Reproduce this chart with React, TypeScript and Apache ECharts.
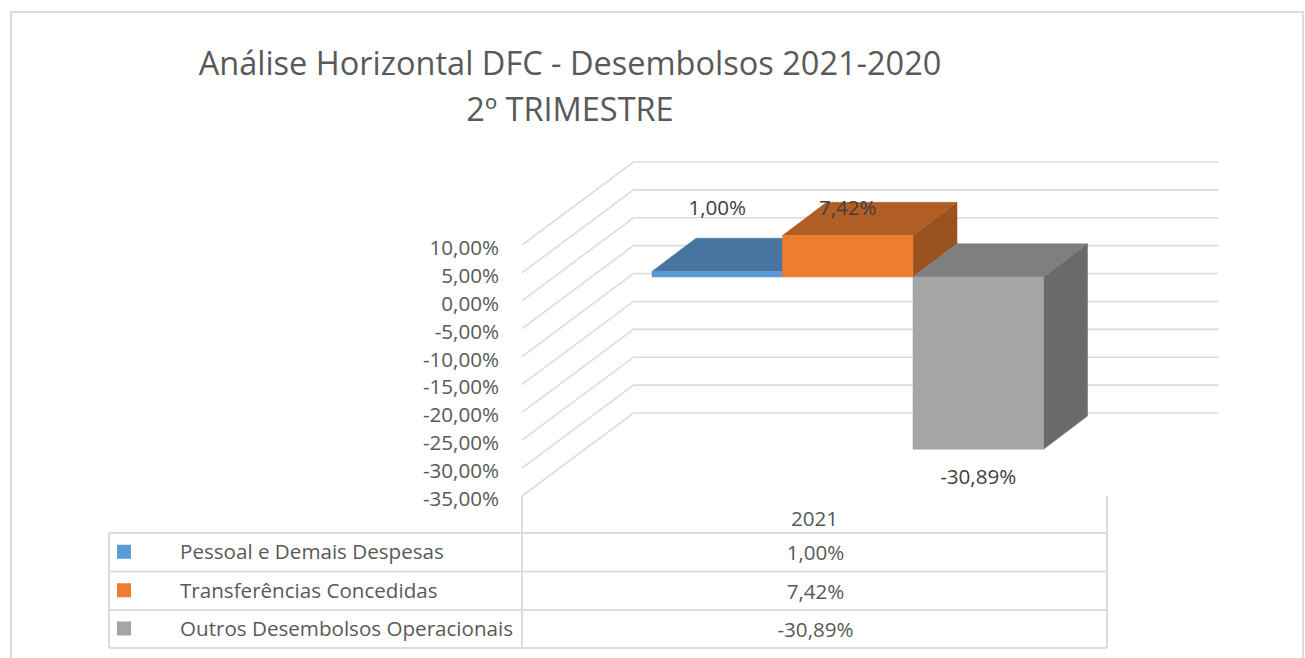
import React, { useEffect, useRef } from "react";
import * as echarts from "echarts";

const titleLines = ["Análise Horizontal DFC - Desembolsos 2021-2020", "2º TRIMESTRE"];
const categories = ["2021"];
const seriesNames = ["Pessoal e Demais Despesas", "Transferências Concedidas", "Outros Desembolsos Operacionais"];
const seriesValues = [1.0, 7.42, -30.89];
const tickValues = [10, 5, 0, -5, -10, -15, -20, -25, -30, -35];

const FONT = '"Open Sans", sans-serif';
const TEXT_SIZE = 20.6;
const GRID = "#dcdcdc";
const FRONT = ["#5B9BD5", "#ED7D31", "#A5A5A5"];
const TOP = ["#4775A0", "#B15E25", "#7F7F7F"];
const SIDE = ["#3E658C", "#9A5220", "#6A6A6A"];

const DEPTH_X = 111.5;
const DEPTH_Y = 83;
const BAR_NEAR_X = 0.298;
const BAR_NEAR_Y = 0.287;
const BAR_DEEP_X = 0.395;
const BAR_DEEP_Y = 0.4;
const BAR_SLOT = 130.5 / 585;
const POSITIVE_LABEL_VALUE = 12.55;
const NEGATIVE_LABEL_GAP = 27;

const pct = (v: number) => v.toFixed(2).replace(".", ",") + "%";

const TABLE_LEFT = 109;
const TABLE_SPLIT = 522;
const TABLE_RIGHT = 1107;
const TABLE_AXIS_TOP = 496;
const ROW_LINES = [533, 571.5, 610, 648];

function wallItem(_: any, api: any) {
  const [x0, y] = api.coord([0, api.value(1)]);
  const band = api.size([1, 0])[0];
  const left = x0 - band / 2;
  return {
    type: "polyline",
    shape: {
      points: [
        [left, y],
        [left + DEPTH_X, y - DEPTH_Y],
        [left + band + DEPTH_X, y - DEPTH_Y],
      ],
    },
    style: { stroke: GRID, lineWidth: 1.6, fill: "none" },
  };
}

function barItem(index: number) {
  return (_: any, api: any) => {
    const value = api.value(1);
    const [cx, yVal] = api.coord([0, value]);
    const [, yZero] = api.coord([0, 0]);
    const band = api.size([1, 0])[0];
    const w = band * BAR_SLOT;
    const nx = DEPTH_X * BAR_NEAR_X;
    const ny = DEPTH_Y * BAR_NEAR_Y;
    const ddx = DEPTH_X * BAR_DEEP_X;
    const ddy = DEPTH_Y * BAR_DEEP_Y;
    const x1 = cx + (index - 1.5) * w + nx;
    const x2 = x1 + w;
    const top = Math.min(yVal, yZero) - ny;
    const bottom = Math.max(yVal, yZero) - ny;
    const poly = (points: number[][], color: string) => ({
      type: "polygon",
      shape: { points },
      style: { fill: color, stroke: color, lineWidth: 0.5 },
    });
    const labelY =
      value >= 0 ? api.coord([0, POSITIVE_LABEL_VALUE])[1] - ny : bottom + NEGATIVE_LABEL_GAP;
    return {
      type: "group",
      children: [
        poly([[x2, top], [x2 + ddx, top - ddy], [x2 + ddx, bottom - ddy], [x2, bottom]], SIDE[index]),
        poly([[x1, top], [x1 + ddx, top - ddy], [x2 + ddx, top - ddy], [x2, top]], TOP[index]),
        poly([[x1, top], [x2, top], [x2, bottom], [x1, bottom]], FRONT[index]),
        {
          type: "text",
          z2: 10,
          style: {
            text: pct(value),
            x: (x1 + x2) / 2,
            y: labelY,
            align: "center",
            verticalAlign: "middle",
            fill: "#404040",
            fontSize: TEXT_SIZE,
            fontFamily: FONT,
          },
        },
      ],
    };
  };
}

function line(x1: number, y1: number, x2: number, y2: number) {
  return {
    type: "line",
    shape: { x1, y1, x2, y2 },
    style: { stroke: GRID, lineWidth: 2 },
  };
}

function tableGraphics() {
  const els: any[] = [
    {
      type: "rect",
      shape: { x: 11, y: 12, width: 1292, height: 700 },
      style: { fill: "none", stroke: "#dcdcdc", lineWidth: 2 },
    },
    line(TABLE_SPLIT, TABLE_AXIS_TOP, TABLE_SPLIT, ROW_LINES[3]),
    line(TABLE_RIGHT, TABLE_AXIS_TOP, TABLE_RIGHT, ROW_LINES[3]),
    line(TABLE_LEFT, ROW_LINES[0], TABLE_LEFT, ROW_LINES[3]),
  ];
  ROW_LINES.forEach((y) => els.push(line(TABLE_LEFT, y, TABLE_RIGHT, y)));
  seriesNames.forEach((name, i) => {
    const mid = (ROW_LINES[i] + ROW_LINES[i + 1]) / 2;
    els.push({
      type: "rect",
      shape: { x: 117, y: mid - 7.5, width: 14, height: 14 },
      style: { fill: FRONT[i] },
    });
    els.push({
      type: "text",
      style: {
        text: name,
        x: 180,
        y: mid - 1,
        align: "left",
        verticalAlign: "middle",
        fill: "#595959",
        fontSize: TEXT_SIZE,
        fontFamily: FONT,
      },
    });
    els.push({
      type: "text",
      style: {
        text: pct(seriesValues[i]),
        x: (TABLE_SPLIT + TABLE_RIGHT) / 2 + 1,
        y: mid,
        align: "center",
        verticalAlign: "middle",
        fill: "#595959",
        fontSize: TEXT_SIZE,
        fontFamily: FONT,
      },
    });
  });
  return els;
}

export default function App() {
  const ref = useRef<HTMLDivElement>(null);
  useEffect(() => {
    const chart = echarts.init(ref.current!, null, { renderer: "svg" });
    chart.setOption({
      animation: false,
      backgroundColor: "#ffffff",
      title: {
        text: titleLines.join("\n"),
        left: 565,
        top: 34,
        textAlign: "center",
        textStyle: {
          color: "#595959",
          fontSize: 32.5,
          lineHeight: 46,
          fontWeight: "normal",
          fontFamily: FONT,
        },
      },
      grid: { left: 522, top: 245, width: 585, height: 251, containLabel: false },
      xAxis: {
        type: "category",
        data: categories,
        axisLine: { show: false },
        axisTick: { show: false },
        splitLine: { show: false },
        axisLabel: { color: "#595959", fontSize: TEXT_SIZE, fontFamily: FONT, margin: 11 },
      },
      yAxis: {
        type: "value",
        min: -35,
        max: 10,
        interval: 5,
        axisLine: { show: false },
        axisTick: { show: false },
        splitLine: { show: false },
        axisLabel: {
          margin: 23,
          formatter: (v: number) => `{t|${pct(v)}}`,
          rich: {
            t: {
              color: "#595959",
              fontSize: TEXT_SIZE,
              fontFamily: FONT,
              padding: [4, 0, 0, 0],
            },
          },
        },
      },
      graphic: tableGraphics(),
      series: [
        {
          type: "custom",
          name: "grade",
          z: 1,
          silent: true,
          data: tickValues.map((t) => [0, t]),
          renderItem: wallItem,
        },
        ...seriesNames.map((name, i) => ({
          type: "custom",
          name,
          z: 2 + i,
          data: [[0, seriesValues[i]]],
          renderItem: barItem(i),
        })),
      ],
    });
    return () => chart.dispose();
  }, []);
  return (
    <div
      ref={ref}
      style={{ position: "fixed", left: 0, top: 0, width: 1305, height: 658, overflow: "hidden" }}
    />
  );
}
